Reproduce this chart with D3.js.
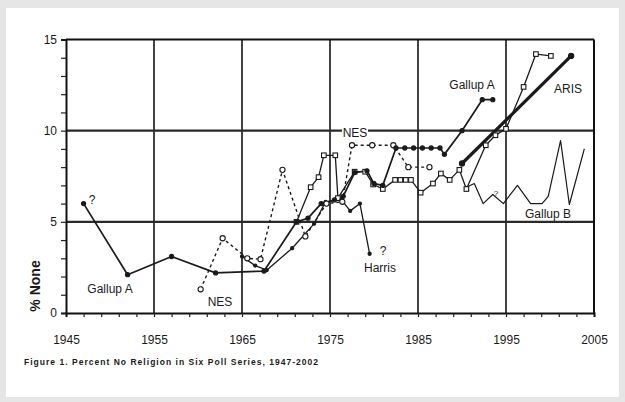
<!DOCTYPE html>
<html>
<head>
<meta charset="utf-8">
<script src="https://cdn.jsdelivr.net/npm/d3@7"></script>
<style>
  body { margin: 0; background: #e6e6e6; }
  text { font-family: "Liberation Sans", Arial, sans-serif; fill: #1a1a1a; }
</style>
</head>
<body>
<div id="chart"></div>
<script>
// poll series, [year, % none]
var gallupA = [[1947, 6.0], [1952, 2.1], [1957, 3.1], [1962, 2.2], [1967.5, 2.3], [1971.2, 5.0],
    [1972.5, 5.2], [1974, 6.0], [1975.5, 6.2], [1976.5, 6.4], [1977.8, 7.7], [1979.2, 7.8],
    [1980, 7.1], [1981, 7.0], [1982.5, 9.05], [1983.5, 9.05], [1984.5, 9.05], [1985.5, 9.05],
    [1986.5, 9.05], [1987.5, 9.05], [1988, 8.7], [1990, 10.0], [1992.3, 11.7], [1993.5, 11.7]];
var nes = [[1960.3, 1.3], [1962.8, 4.1], [1965.6, 3.0], [1967.1, 2.95], [1969.6, 7.85], [1972.2, 4.2],
    [1974.6, 6.0], [1976.4, 6.1], [1977.5, 9.2], [1979.8, 9.2], [1982.2, 9.2], [1983.9, 8.0], [1986.3, 8.0]];
var gss = [[1971.2, 5.0], [1972.8, 6.9], [1973.7, 7.45], [1974.3, 8.65], [1975.6, 8.65], [1975.9, 6.3],
    [1977.8, 7.75], [1979, 7.75], [1979.9, 7.05], [1981, 6.8], [1982.4, 7.3], [1983, 7.3], [1983.6, 7.3],
    [1984.2, 7.3], [1985.3, 6.6], [1986.7, 7.1], [1987.6, 7.65], [1988.6, 7.3], [1989.7, 7.85],
    [1990.5, 6.8], [1992.7, 9.2], [1993.8, 9.75], [1995, 10.1], [1997, 12.4], [1998.4, 14.2], [2000.1, 14.1]];
var harris = [[1965, 3.1], [1966.5, 2.6], [1967.8, 2.35], [1970.7, 3.55], [1973.2, 4.9], [1974.5, 6.1],
    [1976.3, 6.2], [1977.3, 5.6], [1978.4, 6.0], [1979.5, 3.25]];
var gallupB = [[1990.5, 6.9], [1991.4, 7.1], [1992.4, 6.0], [1993.5, 6.5], [1994.7, 6.0], [1996.3, 7.0],
    [1997.8, 6.0], [1999.1, 6.0], [1999.8, 6.4], [2001.2, 9.45], [2002.2, 5.95], [2003.9, 9.0]];
var aris = [[1990, 8.2], [2002.4, 14.1]];

var majorYears = [1945, 1955, 1965, 1975, 1985, 1995, 2005];
var majorValues = [0, 5, 10, 15];

var width = 625, height = 402;
var margin = {top: 39.5, right: 31, bottom: 89, left: 66};

var svg = d3.select("#chart")
    .append("svg")
    .attr("width", width)
    .attr("height", height);

// white page on the grey frame
svg.append("rect")
    .attr("x", 6).attr("y", 8)
    .attr("width", 613).attr("height", 389)
    .attr("fill", "#fff");

var x = d3.scaleLinear()
    .domain([1945, 2005])
    .range([margin.left, width - margin.right]);
var y = d3.scaleLinear()
    .domain([0, 15])
    .range([height - margin.bottom, margin.top]);

var yBottom = y(0), yTop = y(15);

// grid
svg.append("g")
    .selectAll("line")
    .data(majorYears.slice(1, -1))
    .enter().append("line")
    .attr("x1", function(d) { return x(d); })
    .attr("x2", function(d) { return x(d); })
    .attr("y1", yTop).attr("y2", yBottom)
    .attr("stroke", "#151515")
    .attr("stroke-width", 1.6);
svg.append("g")
    .selectAll("line")
    .data([5, 10])
    .enter().append("line")
    .attr("x1", x(1945)).attr("x2", x(2005))
    .attr("y1", function(d) { return y(d); })
    .attr("y2", function(d) { return y(d); })
    .attr("stroke", "#2a2a2a")
    .attr("stroke-width", 2.2);
svg.append("line")
    .attr("x1", x(1945)).attr("x2", x(2005))
    .attr("y1", yTop).attr("y2", yTop)
    .attr("stroke", "#111").attr("stroke-width", 2);
svg.append("line")
    .attr("x1", x(2005)).attr("x2", x(2005))
    .attr("y1", yTop).attr("y2", yBottom)
    .attr("stroke", "#111").attr("stroke-width", 2);

// minor ticks
var xMinor = svg.append("g")
    .attr("transform", "translate(0," + yBottom + ")")
    .call(d3.axisBottom(x).tickValues(d3.range(1947, 2005, 2)).tickSize(4).tickFormat(""));
var yMinor = svg.append("g")
    .attr("transform", "translate(" + x(1945) + ",0)")
    .call(d3.axisLeft(y).tickValues(d3.range(0, 16, 1)).tickSize(5).tickFormat(""));
[xMinor, yMinor].forEach(function(g) {
    g.select(".domain").attr("stroke", "#111").attr("stroke-width", 2);
    g.selectAll(".tick line").attr("stroke", "#222").attr("stroke-width", 1.2);
});

// tick labels
var xAxis = svg.append("g")
    .attr("transform", "translate(0," + yBottom + ")")
    .call(d3.axisBottom(x).tickValues(majorYears).tickSize(0).tickPadding(22).tickFormat(d3.format("d")));
var yAxis = svg.append("g")
    .attr("transform", "translate(" + x(1945) + ",0)")
    .call(d3.axisLeft(y).tickValues(majorValues).tickSize(0).tickPadding(9));
[xAxis, yAxis].forEach(function(g) {
    g.select(".domain").remove();
    g.selectAll("text")
        .attr("font-size", 12)
        .attr("font-family", "Liberation Sans, Arial, sans-serif")
        .attr("fill", "#1a1a1a");
});

var line = d3.line()
    .x(function(d) { return x(d[0]); })
    .y(function(d) { return y(d[1]); });

function drawLine(data, w, dash) {
    svg.append("path")
        .datum(data)
        .attr("fill", "none")
        .attr("stroke", "#1a1a1a")
        .attr("stroke-width", w)
        .attr("stroke-dasharray", dash || null)
        .attr("stroke-linejoin", "round")
        .attr("d", line);
}

drawLine(harris, 1.3);
drawLine(gss, 1.3);
drawLine(gallupB, 1.2);
drawLine(nes, 1.4, "3,3");
drawLine(gallupA, 1.7);
drawLine(aris, 3.2);

// markers
function dots(data, r, fill) {
    svg.append("g")
        .selectAll("circle")
        .data(data)
        .enter().append("circle")
        .attr("cx", function(d) { return x(d[0]); })
        .attr("cy", function(d) { return y(d[1]); })
        .attr("r", r)
        .attr("fill", fill)
        .attr("stroke", "#1a1a1a")
        .attr("stroke-width", 1.1);
}
svg.append("g")
    .selectAll("rect")
    .data(gss)
    .enter().append("rect")
    .attr("x", function(d) { return x(d[0]) - 2.3; })
    .attr("y", function(d) { return y(d[1]) - 2.3; })
    .attr("width", 4.6).attr("height", 4.6)
    .attr("fill", "#fff")
    .attr("stroke", "#1a1a1a")
    .attr("stroke-width", 1.1);
dots(harris, 1.6, "#1a1a1a");
dots(nes, 2.6, "#fff");
dots(gallupA, 2.1, "#1a1a1a");
dots(aris, 2.6, "#1a1a1a");

// series labels
var labels = [
    {t: "Gallup A", x: 110, y: 293, bg: false},
    {t: "NES", x: 220, y: 306, bg: false},
    {t: "NES", x: 355, y: 137, bg: true},
    {t: "Harris", x: 380, y: 272, bg: false},
    {t: "Gallup A", x: 472, y: 89, bg: false},
    {t: "ARIS", x: 568, y: 93, bg: false},
    {t: "Gallup B", x: 548, y: 218, bg: false},
    {t: "?", x: 92, y: 204, bg: false},
    {t: "?", x: 383, y: 255, bg: false},
    {t: "?", x: 496, y: 196, bg: false, s: 8}
];
labels.forEach(function(l) {
    var s = l.s || 12;
    if (l.bg) {
        svg.append("rect")
            .attr("x", l.x - 13).attr("y", l.y - 10)
            .attr("width", 26).attr("height", 12)
            .attr("fill", "#fff");
    }
    svg.append("text")
        .attr("x", l.x).attr("y", l.y)
        .attr("text-anchor", "middle")
        .attr("font-size", s)
        .attr("fill", "#1a1a1a")
        .text(l.t);
});

// y title
svg.append("text")
    .attr("transform", "translate(40,286) rotate(-90)")
    .attr("text-anchor", "middle")
    .attr("font-size", 14)
    .attr("font-weight", "bold")
    .attr("fill", "#1a1a1a")
    .text("% None");

// caption
svg.append("text")
    .attr("x", 24).attr("y", 365)
    .attr("font-size", 8.5)
    .attr("font-weight", "bold")
    .attr("fill", "#333")
    .attr("textLength", 294)
    .text("Figure 1. Percent No Religion in Six Poll Series, 1947-2002");
</script>
</body>
</html>
